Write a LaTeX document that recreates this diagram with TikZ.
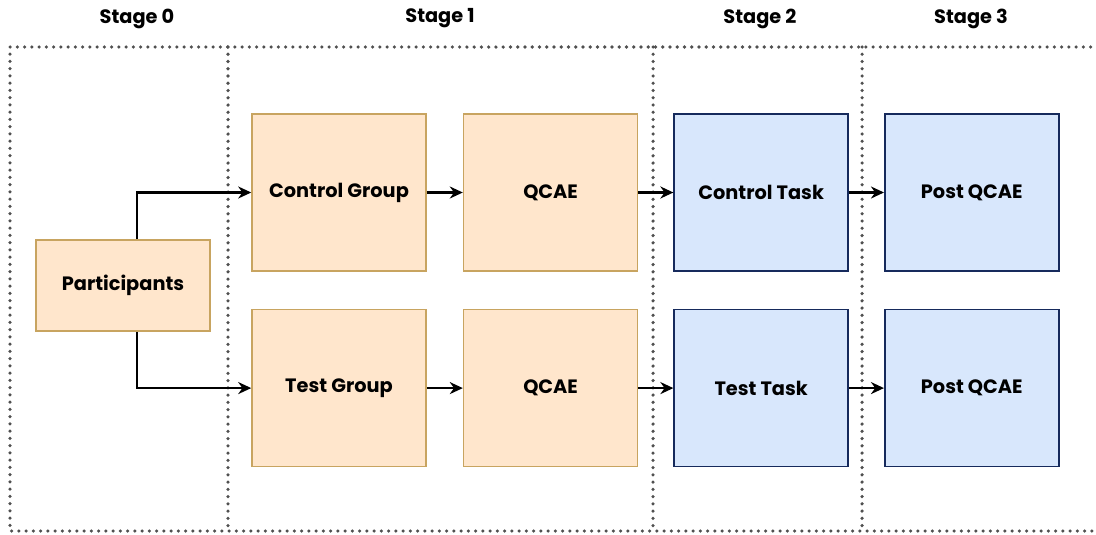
\documentclass[tikz,border=0pt]{standalone}
\usepackage{fontspec}
\setmainfont{Poppins}
\usepackage{tikz}
\usetikzlibrary{arrows.meta, positioning}
\definecolor{grpBase}{RGB}{255,230,204}
\definecolor{grpEdge}{RGB}{200,164,96}
\definecolor{taskBase}{RGB}{216,231,252}
\definecolor{taskEdge}{RGB}{22,42,92}
\definecolor{frameEdge}{RGB}{80,80,80}

\begin{document}
\begin{tikzpicture}[
    node distance=0.70cm,
    box/.style={rectangle, line width=0.9pt, minimum width=3.48cm, minimum height=3.14cm, align=center, font=\fontsize{11}{13}\selectfont\bfseries, inner sep=0pt},
    grp/.style={box, fill=grpBase, draw=grpEdge},
    task/.style={box, fill=taskBase, draw=taskEdge},
    stage/.style={font=\fontsize{11}{13}\selectfont\bfseries},
    frame/.style={draw=frameEdge, line width=2pt, line cap=round, dash pattern=on 0pt off 0.145cm},
    arrow/.style={-{Stealth[length=2.6mm, width=2.4mm]}, line width=1.5pt, black}
]
\useasboundingbox (0,0) rectangle (21.92,-10.68);

% --- Quadro pontilhado e divisórias ---
\draw[frame] (22.1,-0.94) -- (0.2,-0.94) -- (0.2,-10.62) -- (22.1,-10.62);
\draw[frame] (4.56,-0.94) -- (4.56,-10.62);
\draw[frame] (13.06,-0.94) -- (13.06,-10.62);
\draw[frame] (17.24,-0.94) -- (17.24,-10.62);

% --- Títulos das etapas ---
\node[stage] (stage0) at (2.74,-0.37) {Stage 0};
\node[stage] (stage1) at (8.80,-0.37) {Stage 1};
\node[stage] (stage2) at (15.20,-0.37) {Stage 2};
\node[stage] (stage3) at (19.42,-0.37) {Stage 3};

% --- Linha de cima: grupo de controle ---
\node[grp] (ctrlgroup) at (6.78,-3.85) {Control Group};
\node[grp, right=0.72cm of ctrlgroup] (qcaeA) {QCAE};
\node[task, right=of qcaeA] (ctrltask) {Control Task};
\node[task, right=of ctrltask] (postA) {Post QCAE};

% --- Linha de baixo: grupo de teste ---
\node[grp, below=0.74cm of ctrlgroup] (testgroup) {Test Group};
\node[grp, right=0.72cm of testgroup] (qcaeB) {QCAE};
\node[task, right=of qcaeB] (testtask) {Test Task};
\node[task, right=of testtask] (postB) {Post QCAE};

% --- Participantes (esquerda) ---
\node[grp, minimum height=1.82cm, at={(2.46,-5.71)}] (participants) {Participants};

% === SETAS ===
\draw[arrow] ([xshift=0.28cm]participants.north) |- (ctrlgroup.west);
\draw[arrow] ([xshift=0.28cm]participants.south) |- (testgroup.west);

\draw[arrow] (ctrlgroup) -- (qcaeA);
\draw[arrow] (qcaeA) -- (ctrltask);
\draw[arrow] (ctrltask) -- (postA);

\draw[arrow] (testgroup) -- (qcaeB);
\draw[arrow] (qcaeB) -- (testtask);
\draw[arrow] (testtask) -- (postB);

\end{tikzpicture}
\end{document}
